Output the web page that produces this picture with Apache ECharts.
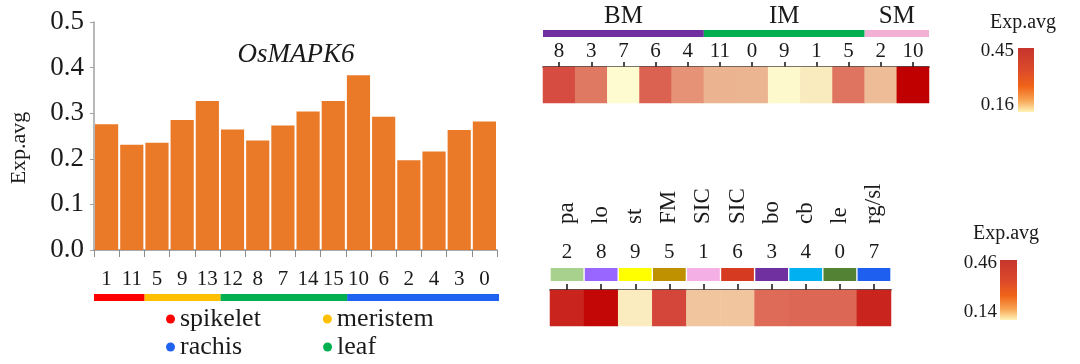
<!DOCTYPE html>
<html>
<head>
<meta charset="utf-8">
<script src="https://cdn.jsdelivr.net/npm/echarts@6/dist/echarts.min.js"></script>
<style>html,body{margin:0;padding:0;background:#fff;}#c{width:1080px;height:364px;}</style>
</head>
<body>
<div id="c"></div>
<script>
// ---- bar chart data ----
const barCats = ['1','11','5','9','13','12','8','7','14','15','10','6','2','4','3','0'];
const barValues = [0.276,0.231,0.235,0.285,0.327,0.264,0.240,0.273,0.304,0.327,0.383,0.292,0.197,0.216,0.263,0.282];
const barGroups = ['spikelet','spikelet','meristem','meristem','meristem','leaf','leaf','leaf','leaf','leaf','rachis','rachis','rachis','rachis','rachis','rachis'];
const barTitle = 'OsMAPK6';
const yTicks = [0, 0.5, 0.1];
const legendRow1 = ['spikelet','meristem'];
const legendRow2 = ['rachis','leaf'];

// ---- top heatmap ----
const topCats = ['8','3','7','6','4','11','0','9','1','5','2','10'];
const topValues = [0.40,0.351,0.16,0.38,0.317,0.272,0.27,0.165,0.19,0.355,0.26,0.45];
const topGroups = ['BM','BM','BM','BM','BM','IM','IM','IM','IM','IM','SM','SM'];
const topRange = [0.16, 0.45];

// ---- bottom heatmap ----
const botCats = ['2','8','9','5','1','6','3','4','0','7'];
const botNames = ['pa','lo','st','FM','SIC','SIC','bo','cb','le','rg/sl'];
const botValues = [0.434,0.455,0.172,0.41,0.236,0.236,0.37,0.375,0.375,0.434];
const botRange = [0.14, 0.46];

// ---- styles ----
const FONT = "'Liberation Serif','Times New Roman',serif";
const TXT = '#1a1a1a';
const groupColors = {spikelet:'#ff0000', meristem:'#ffc000', rachis:'#1f63f0', leaf:'#00b050'};
const topGroupColors = {BM:'#7030a0', IM:'#00b050', SM:'#f2b0d4'};
const botStripColors = ['#a9d18e','#9966ff','#ffff00','#bf9000','#f4b0e4','#d63a20','#7030a0','#00b0f0','#548235','#1f5ff0'];
const heatColors = ['#fffbd0','#f6dcae','#ebb08e','#e3866c','#d9584a','#c00000'];
const barGradient = [
  {offset:0, color:'#c6352c'}, {offset:0.35, color:'#dc4a2a'}, {offset:0.6, color:'#f06418'},
  {offset:0.82, color:'#f8a555'}, {offset:1, color:'#fff3b8'}
];

function spans(groups){
  const out=[];
  groups.forEach((g,i)=>{
    if(out.length && out[out.length-1].name===g) out[out.length-1].end=i;
    else out.push({name:g,start:i,end:i});
  });
  return out;
}
function stripRender(withLabel){
  return function(params, api){
    const s = api.value(0), e = api.value(2);
    const bw = api.size([1,0])[0];
    const p0 = api.coord([s,0]), p1 = api.coord([e,0]);
    const cs = params.coordSys;
    const x0 = p0[0]-bw/2, x1 = p1[0]+bw/2;
    const children = [{type:'rect', shape:{x:x0,y:cs.y,width:x1-x0,height:cs.height}, style:{fill:api.visual('color')}}];
    if(withLabel){
      children.push({type:'text', style:{text:withLabel[params.dataIndex].name, x:(x0+x1)/2, y:cs.y-1,
        textAlign:'center', textVerticalAlign:'bottom', font:'25px '+FONT, fill:TXT}});
    }
    return {type:'group', children};
  };
}

const barSpans = spans(barGroups);
const topSpans = spans(topGroups);

const series = [];
series.push({type:'bar', xAxisIndex:0, yAxisIndex:0, data:barValues, barCategoryGap:'8%',
  itemStyle:{color:'#ea7a28'}, silent:true});
['spikelet','meristem','rachis','leaf'].forEach(g=>{
  const sp = barSpans.filter(s=>s.name===g);
  series.push({type:'custom', name:g, xAxisIndex:1, yAxisIndex:1, itemStyle:{color:groupColors[g]},
    renderItem: stripRender(null), clip:false,
    data: sp.map(s=>[s.start,0,s.end])});
});
const topHeatIdx = series.length;
series.push({type:'heatmap', xAxisIndex:2, yAxisIndex:2,
  data: topValues.map((v,i)=>[i,0,v])});
series.push({type:'custom', xAxisIndex:3, yAxisIndex:3, clip:false, renderItem: stripRender(topSpans),
  data: topSpans.map(s=>({value:[s.start,0,s.end], itemStyle:{color:topGroupColors[s.name]}}))});
series.push({type:'bar', xAxisIndex:4, yAxisIndex:4, barCategoryGap:'4%', silent:true,
  data: botCats.map((c,i)=>({value:1, itemStyle:{color:botStripColors[i]}}))});
const botHeatIdx = series.length;
series.push({type:'heatmap', xAxisIndex:6, yAxisIndex:5,
  data: botValues.map((v,i)=>[i,0,v])});

const hiddenAxis = (data)=>({type:'category', data, show:false});

const option = {
  animation:false,
  textStyle:{fontFamily:FONT},
  title:{text:barTitle, left:291, top:36, textAlign:'center',
    textStyle:{fontFamily:FONT, fontStyle:'italic', fontWeight:'normal', fontSize:27, color:TXT}},
  legend:[
    {data:legendRow1, left:166, top:306, icon:'circle', itemWidth:9, itemHeight:9, itemGap:62, padding:0,
      textStyle:{fontFamily:FONT, fontSize:26, color:TXT}, selectedMode:false},
    {data:legendRow2, left:166, top:334, icon:'circle', itemWidth:9, itemHeight:9, itemGap:81, padding:0,
      textStyle:{fontFamily:FONT, fontSize:26, color:TXT}, selectedMode:false}
  ],
  grid:[
    {left:94, top:22, width:403, height:228},
    {left:94, top:294, width:405, height:7},
    {left:543, top:67, width:386, height:36},
    {left:543, top:30, width:386, height:7},
    {left:550, top:268, width:341, height:13},
    {left:550, top:290, width:341, height:36}
  ],
  xAxis:[
    {type:'category', gridIndex:0, data:barCats,
      axisLine:{lineStyle:{color:'#8c8c8c', width:1.5}},
      axisTick:{show:true, length:7, lineStyle:{color:'#8c8c8c'}},
      axisLabel:{fontFamily:FONT, fontSize:21, color:TXT, margin:19, interval:0}},
    Object.assign(hiddenAxis(barCats), {gridIndex:1}),
    {type:'category', gridIndex:2, data:topCats, position:'top',
      axisLine:{lineStyle:{color:'#111', width:1.5}},
      axisTick:{show:true, alignWithLabel:true, length:5, lineStyle:{color:'#111', width:1.5}},
      axisLabel:{fontFamily:FONT, fontSize:21, color:TXT, margin:5, interval:0}},
    Object.assign(hiddenAxis(topCats), {gridIndex:3}),
    {type:'category', gridIndex:4, data:botCats, position:'top',
      axisLine:{show:false}, axisTick:{show:false},
      axisLabel:{fontFamily:FONT, fontSize:21, color:TXT, margin:5, interval:0}},
    {type:'category', gridIndex:4, data:botCats, position:'top', offset:36,
      axisLine:{show:false}, axisTick:{show:false},
      axisLabel:{fontFamily:FONT, fontSize:23, color:TXT, margin:8, interval:0, rotate:-90,
        formatter:(v,i)=>botNames[i]}},
    {type:'category', gridIndex:5, data:botCats, position:'top',
      axisLine:{lineStyle:{color:'#111', width:1.5}},
      axisTick:{show:true, alignWithLabel:true, length:6, lineStyle:{color:'#111', width:1.5}},
      axisLabel:{show:false}}
  ],
  yAxis:[
    {type:'value', gridIndex:0, min:yTicks[0], max:yTicks[1], interval:yTicks[2],
      name:'Exp.avg', nameLocation:'middle', nameGap:64,
      nameTextStyle:{fontFamily:FONT, fontSize:22, color:TXT, padding:[0,24,0,0]},
      axisLine:{show:true, lineStyle:{color:'#a0a0a0', width:1.5}},
      axisTick:{show:true, length:4, lineStyle:{color:'#a0a0a0'}},
      splitLine:{show:false},
      axisLabel:{fontFamily:FONT, fontSize:27, color:TXT, margin:10, formatter:v=>v.toFixed(1)}},
    {type:'value', gridIndex:1, min:0, max:1, show:false},
    {type:'category', gridIndex:2, data:[''], show:false},
    {type:'value', gridIndex:3, min:0, max:1, show:false},
    {type:'value', gridIndex:4, min:0, max:1, show:false},
    {type:'category', gridIndex:5, data:[''], show:false}
  ],
  visualMap:[
    {type:'continuous', show:false, seriesIndex:topHeatIdx, dimension:2, min:topRange[0], max:topRange[1], inRange:{color:heatColors}},
    {type:'continuous', show:false, seriesIndex:botHeatIdx, dimension:2, min:botRange[0], max:botRange[1], inRange:{color:heatColors}}
  ],
  graphic:[
    {type:'text', left:990, top:13, style:{text:'Exp.avg', font:'20px '+FONT, fill:TXT}},
    {type:'rect', shape:{x:1018, y:48, width:16, height:64},
      style:{fill:{type:'linear', x:0, y:0, x2:0, y2:1, colorStops:barGradient}}},
    {type:'text', style:{text:topRange[1].toFixed(2), x:1014, y:51, textAlign:'right', textVerticalAlign:'middle', font:'19px '+FONT, fill:TXT}},
    {type:'text', style:{text:topRange[0].toFixed(2), x:1014, y:105, textAlign:'right', textVerticalAlign:'middle', font:'19px '+FONT, fill:TXT}},
    {type:'text', left:973, top:224, style:{text:'Exp.avg', font:'20px '+FONT, fill:TXT}},
    {type:'rect', shape:{x:1000, y:260, width:17, height:60},
      style:{fill:{type:'linear', x:0, y:0, x2:0, y2:1, colorStops:barGradient}}},
    {type:'text', style:{text:botRange[1].toFixed(2), x:997, y:263, textAlign:'right', textVerticalAlign:'middle', font:'19px '+FONT, fill:TXT}},
    {type:'text', style:{text:botRange[0].toFixed(2), x:997, y:312, textAlign:'right', textVerticalAlign:'middle', font:'19px '+FONT, fill:TXT}}
  ],
  series
};
const chart = echarts.init(document.getElementById('c'), null, {renderer:'canvas'});
chart.setOption(option);
</script>
</body>
</html>
